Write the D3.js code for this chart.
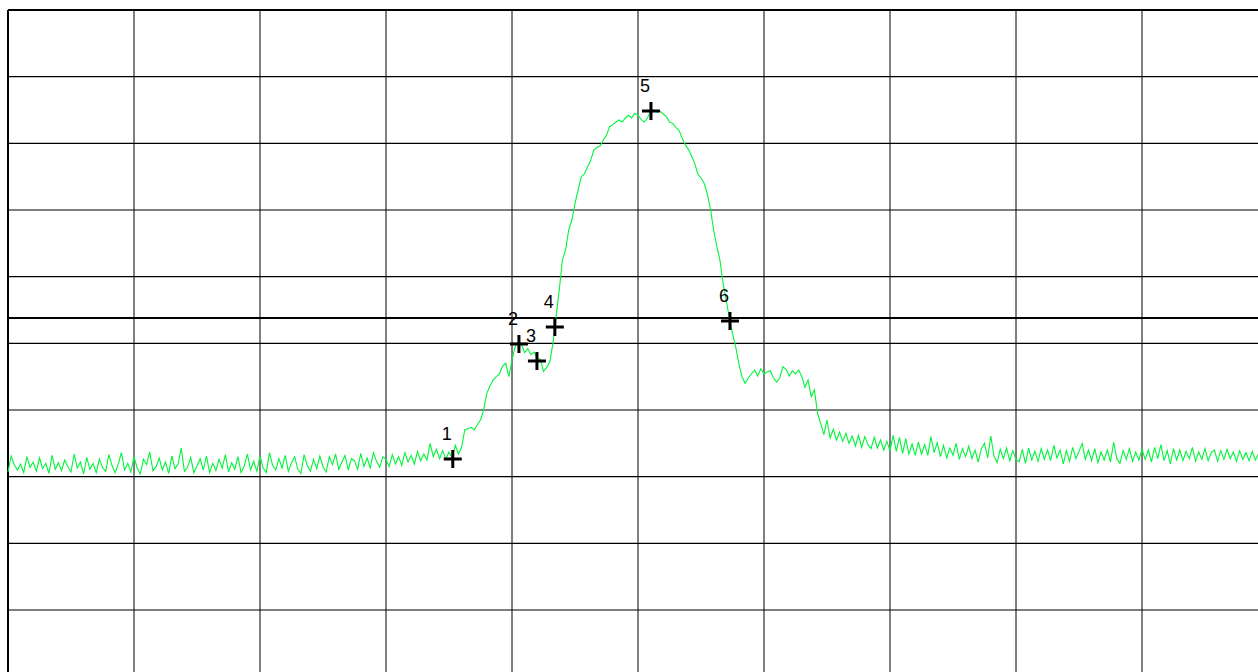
<!DOCTYPE html>
<html>
<head>
<meta charset="utf-8">
<script src="https://cdn.jsdelivr.net/npm/d3@7"></script>
<style>
  html, body { margin: 0; padding: 0; background: #fff; overflow: hidden; }
  svg { display: block; }
</style>
</head>
<body>
<svg id="chart" width="1258" height="672"></svg>
<script>
// Sweep: start frequency and step between trace points
const sweepStart = 0;
const sweepStep = 0.25;
// Grid ticks (10 dB / 10 units per division)
const freqTicks = [0, 10, 20, 30, 40, 50, 60, 70, 80, 90, 100];
const levelTicks = [0, -10, -20, -30, -40, -50, -60, -70, -80, -90, -100];
// Threshold / reference line level (dB)
const refLevel = -46.2;

// Trace levels (dB), one per sweep point
const traceLevels = [
  -69.3,-66.9,-68.2,-69.0,-68.1,-69.4,-67.0,-68.6,-67.8,-69.2,
  -67.2,-68.8,-68.0,-69.5,-66.8,-68.9,-67.9,-69.1,-67.5,-68.5,
  -69.3,-66.6,-68.7,-67.8,-69.6,-67.1,-68.9,-68.0,-69.4,-67.4,
  -68.6,-69.2,-66.7,-68.3,-69.4,-68.1,-66.4,-69.0,-68.0,-69.3,
  -67.0,-68.7,-69.6,-67.4,-68.2,-66.3,-69.1,-68.5,-67.2,-69.0,
  -67.8,-69.5,-66.9,-68.8,-68.1,-65.7,-69.2,-68.6,-67.1,-69.4,
  -68.4,-67.3,-69.0,-66.9,-69.4,-68.0,-69.1,-67.4,-68.7,-66.7,
  -69.3,-67.9,-68.9,-67.0,-69.4,-68.4,-66.6,-69.0,-67.7,-69.2,
  -66.9,-68.7,-69.4,-66.4,-68.3,-69.0,-67.3,-68.7,-66.8,-69.2,
  -67.9,-67.0,-68.9,-69.5,-66.7,-68.3,-69.2,-67.4,-68.8,-66.9,
  -68.5,-69.3,-67.0,-68.2,-66.6,-68.9,-67.8,-66.8,-69.0,-67.3,
  -67.6,-68.9,-66.5,-68.5,-67.2,-68.7,-66.4,-67.7,-68.6,-67.0,
  -67.4,-68.5,-66.7,-68.1,-67.0,-68.3,-66.4,-67.8,-66.8,-68.1,
  -66.2,-67.6,-66.6,-67.5,-65.0,-67.0,-65.9,-67.3,-66.1,-67.4,
  -66.3,-67.2,-65.3,-66.6,-65.6,-63.0,-62.8,-62.6,-63.0,-62.2,
  -61.5,-60.0,-57.5,-56.4,-55.5,-55.0,-54.6,-53.4,-53.0,-55.0,
  -52.5,-50.5,-49.8,-50.2,-51.4,-50.8,-51.7,-51.3,-52.2,-52.4,
  -54.2,-53.6,-52.8,-50.0,-46.0,-42.0,-37.5,-36.0,-33.0,-31.5,
  -29.0,-27.0,-25.0,-24.6,-23.5,-22.5,-21.0,-20.6,-20.4,-19.5,
  -18.8,-17.5,-17.2,-16.8,-16.5,-16.8,-16.2,-15.8,-16.2,-15.5,
  -15.8,-16.4,-16.8,-16.2,-15.2,-15.0,-15.3,-15.2,-15.6,-16.0,
  -16.8,-17.0,-17.6,-18.0,-19.2,-20.2,-20.9,-21.9,-23.0,-24.6,
  -25.2,-26.0,-27.6,-29.8,-33.0,-35.4,-37.5,-41.0,-43.5,-46.2,
  -48.5,-50.5,-53.0,-55.0,-56.0,-55.2,-54.6,-54.0,-54.9,-53.8,
  -54.6,-54.3,-54.1,-55.2,-55.8,-55.2,-53.5,-53.9,-54.9,-54.1,
  -54.6,-54.0,-55.0,-56.6,-55.5,-58.0,-57.0,-60.5,-62.0,-63.7,
  -61.5,-64.2,-62.9,-64.5,-63.3,-64.7,-63.5,-65.0,-63.9,-65.4,
  -63.8,-65.6,-64.0,-65.2,-65.8,-64.1,-65.7,-64.5,-66.0,-64.7,
  -66.1,-63.8,-66.2,-64.1,-66.5,-64.3,-66.6,-65.1,-66.8,-64.8,
  -66.6,-65.2,-66.8,-64.0,-66.4,-64.9,-67.0,-65.3,-67.2,-65.7,
  -66.8,-65.0,-67.4,-65.8,-67.0,-65.4,-67.3,-66.0,-67.8,-65.8,
  -65.0,-67.2,-63.9,-66.9,-67.9,-65.9,-67.3,-65.7,-67.6,-66.1,
  -67.4,-67.8,-65.9,-68.0,-65.7,-67.5,-66.2,-67.7,-65.8,-67.4,
  -66.0,-67.6,-65.3,-67.2,-66.0,-68.1,-66.1,-67.7,-65.6,-67.3,
  -66.2,-65.0,-67.4,-66.0,-67.6,-65.8,-67.9,-66.3,-67.5,-66.0,
  -67.8,-64.8,-67.3,-68.0,-66.1,-67.4,-65.8,-67.7,-66.3,-67.5,
  -65.9,-67.4,-66.0,-67.8,-65.6,-67.3,-65.2,-67.6,-66.1,-68.1,
  -65.8,-67.5,-66.0,-67.6,-66.2,-67.3,-65.6,-67.7,-66.3,-67.4,
  -65.8,-67.6,-66.4,-66.0,-67.7,-66.1,-67.4,-65.9,-67.3,-66.3,
  -67.7,-66.1,-67.4,-66.4,-67.6,-66.2,-67.5,-66.5,-63.9,-67.4
];

// Markers: label, frequency, level
const markerLabels = ["1", "2", "3", "4", "5", "6"];
const markerFreqs = [35.3, 40.55, 41.98, 43.4, 51.03, 57.3];
const markerLevels = [-67.35, -50.1, -52.65, -47.55, -15.15, -46.65];

const svg = d3.select("#chart");
const x = d3.scaleLinear().domain([0, 100]).range([8, 1268]);
const y = d3.scaleLinear().domain([0, -100]).range([10, 676.67]);

// Grid
const grid = svg.append("g");
grid.selectAll("line.v").data(freqTicks).enter().append("line")
  .attr("x1", d => x(d)).attr("x2", d => x(d))
  .attr("y1", y(0)).attr("y2", y(-100))
  .attr("stroke", "#000").attr("stroke-width", 1);
grid.selectAll("line.h").data(levelTicks).enter().append("line")
  .attr("x1", x(0)).attr("x2", x(100))
  .attr("y1", d => y(d)).attr("y2", d => y(d))
  .attr("stroke", "#000").attr("stroke-width", 1.2);
// Border (left/top)
svg.append("line").attr("x1", x(0)).attr("x2", x(0)).attr("y1", y(0)).attr("y2", y(-100))
  .attr("stroke", "#000").attr("stroke-width", 2);
svg.append("line").attr("x1", x(0)).attr("x2", x(100)).attr("y1", y(0)).attr("y2", y(0))
  .attr("stroke", "#000").attr("stroke-width", 2);

// Reference line
svg.append("line")
  .attr("x1", x(0)).attr("x2", x(100))
  .attr("y1", y(refLevel)).attr("y2", y(refLevel))
  .attr("stroke", "#000").attr("stroke-width", 2);

// Trace
const line = d3.line()
  .x((d, i) => x(sweepStart + i * sweepStep))
  .y(d => y(d));
svg.append("path")
  .datum(traceLevels)
  .attr("d", line)
  .attr("fill", "none")
  .attr("stroke", "#00f53a")
  .attr("stroke-width", 1.1);

// Markers
const markers = markerLabels.map((l, i) => ({ label: l, f: markerFreqs[i], v: markerLevels[i] }));
const mg = svg.append("g").selectAll("g").data(markers).enter().append("g")
  .attr("transform", d => `translate(${x(d.f)},${y(d.v)})`);
mg.append("path")
  .attr("d", "M-9,0H9M0,-9V9")
  .attr("stroke", "#000").attr("stroke-width", 3).attr("fill", "none");
mg.append("text")
  .attr("x", -6).attr("y", -19)
  .attr("text-anchor", "middle")
  .attr("font-family", "Liberation Sans, Arial, sans-serif")
  .attr("font-size", 18)
  .attr("fill", "#000")
  .text(d => d.label);
</script>
</body>
</html>
